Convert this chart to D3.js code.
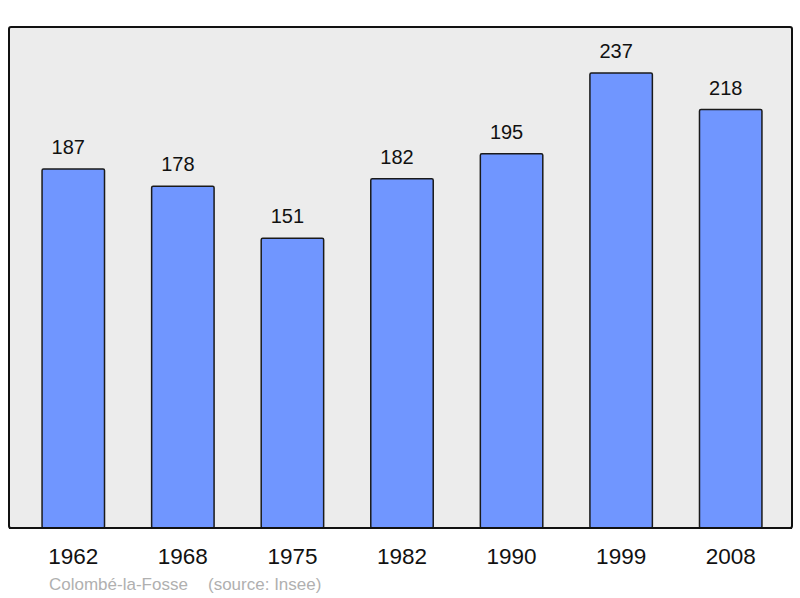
<!DOCTYPE html>
<html>
<head>
<meta charset="utf-8">
<script src="https://cdn.jsdelivr.net/npm/d3@7"></script>
<style>
  body { margin: 0; background: #fff; }
  text { font-family: "Liberation Sans", Arial, sans-serif; }
</style>
</head>
<body>
<svg width="800" height="598"></svg>
<script>
// population per census year
var years = ["1962", "1968", "1975", "1982", "1990", "1999", "2008"];
var population = [187, 178, 151, 182, 195, 237, 218];
var townName = "Colombé-la-Fosse";
var sourceNote = "(source: Insee)";

var svg = d3.select("svg");

var x = d3.scaleBand()
  .domain(years)
  .range([18.5, 785.5])
  .paddingInner(0.43)
  .paddingOuter(0.215);

var y = d3.scaleLinear()
  .domain([0, 261])
  .range([528, 27]);

/* background panel */
svg.append("rect")
  .attr("x", 9).attr("y", 27)
  .attr("width", 783).attr("height", 501)
  .attr("rx", 2)
  .style("fill", "#ececec")
  .style("stroke", "#111")
  .style("stroke-width", 2);

var data = years.map(function(d, i){ return {year: d, value: population[i]}; });

svg.selectAll(".bar").data(data).enter().append("rect")
  .attr("class", "bar")
  .attr("x", function(d){ return x(d.year); })
  .attr("y", function(d){ return y(d.value); })
  .attr("width", x.bandwidth())
  .attr("height", function(d){ return y(0) - y(d.value); })
  .attr("rx", 1.5)
  .style("fill", "#7096ff")
  .style("stroke", "#1a1a1a")
  .style("stroke-width", 1.5);

// redraw bottom edge of the panel over the bars
svg.append("line")
  .attr("x1", 9).attr("x2", 792)
  .attr("y1", 528).attr("y2", 528)
  .style("stroke", "#111")
  .style("stroke-width", 2);

svg.selectAll(".val").data(data).enter().append("text")
  .attr("class", "val")
  .attr("x", function(d){ return x(d.year) + x.bandwidth() / 2 - 5; })
  .attr("y", function(d){ return y(d.value) - 15; })
  .attr("text-anchor", "middle")
  .style("font-size", "20px")
  .style("fill", "#111")
  .text(function(d){ return d.value; });

var xAxis = svg.append("g")
  .attr("transform", "translate(0,528)")
  .call(d3.axisBottom(x).tickSize(0).tickPadding(0));
xAxis.select(".domain").remove();
xAxis.selectAll("text")
  .attr("y", 36)
  .attr("dy", null)
  .style("font-family", "'Liberation Sans', Arial, sans-serif")
  .style("font-size", "22.5px")
  .style("fill", "#111");

svg.append("text")
  .attr("x", 49).attr("y", 590)
  .style("font-size", "17px")
  .style("fill", "#b0b0b0")
  .text(townName);

svg.append("text")
  .attr("x", 208).attr("y", 590)
  .style("font-size", "17px")
  .style("fill", "#b0b0b0")
  .text(sourceNote);
</script>
</body>
</html>
